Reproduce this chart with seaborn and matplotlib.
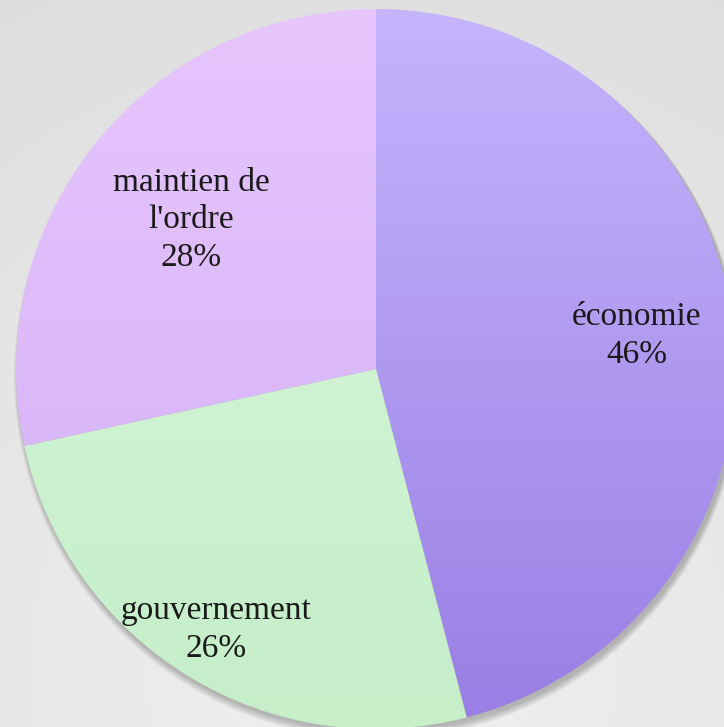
import numpy as np
import matplotlib.pyplot as plt
import seaborn as sns
from matplotlib.colors import LinearSegmentedColormap
from matplotlib.patches import Circle

categories = ["économie", "gouvernement", "maintien de\nl'ordre"]
values = [45.9, 25.6, 28.4]
top_colors = ["#c4b5fd", "#d8f8dc", "#e7c6fd"]
bottom_colors = ["#9a7ee4", "#c5eec9", "#d2adf6"]
label_dist = [0.73, 0.85, 0.66]

sns.set_theme(style="white")
plt.rcParams["font.family"] = ["Liberation Serif", "DejaVu Serif"]

W, H = 724, 727
fig = plt.figure(figsize=(7.24, 7.27), dpi=100)
ax = fig.add_axes([0, 0, 1, 1])

# background radial gradient
yy, xx = np.mgrid[0:H, 0:W]
r = np.hypot(xx - 380, yy - 60) / 900
bg = np.clip(0.945 - 0.09 * r, 0, 1)
ax.imshow(np.dstack([bg, bg, bg]), extent=(0, W, H, 0), zorder=0)

cx, cy, R = 376, H - 369, 360

# soft shadow
for i in range(8):
    ax.add_patch(Circle((cx + 2, cy - 3 - i * 0.5), R + 0.5 + i * 0.5,
                        color="black", alpha=0.03, lw=0, zorder=1))

wedges, _ = ax.pie(values, center=(cx, cy), radius=R, startangle=90,
                   counterclock=False, labels=None,
                   wedgeprops=dict(linewidth=0), frame=True)
ax.set_xlim(0, W)
ax.set_ylim(0, H)
ax.set_aspect("equal")
ax.axis("off")

for w, c0, c1 in zip(wedges, top_colors, bottom_colors):
    w.set_facecolor("none")
    cmap = LinearSegmentedColormap.from_list("g", [c0, c1])
    grad = np.linspace(0, 1, 256).reshape(-1, 1)
    im = ax.imshow(grad, cmap=cmap, aspect="auto",
                   extent=(cx - R, cx + R, cy - R, cy + R),
                   origin="upper", zorder=2)
    im.set_clip_path(w)

for w, lab, v, d in zip(wedges, categories, values, label_dist):
    ang = np.deg2rad((w.theta1 + w.theta2) / 2)
    ax.text(cx + d * R * np.cos(ang), cy + d * R * np.sin(ang),
            f"{lab}\n{v:.0f}%", ha="center", va="center", fontsize=24,
            linespacing=1.3, color="#1a1a1a", zorder=3)

fig.savefig("out.png", dpi=100)
